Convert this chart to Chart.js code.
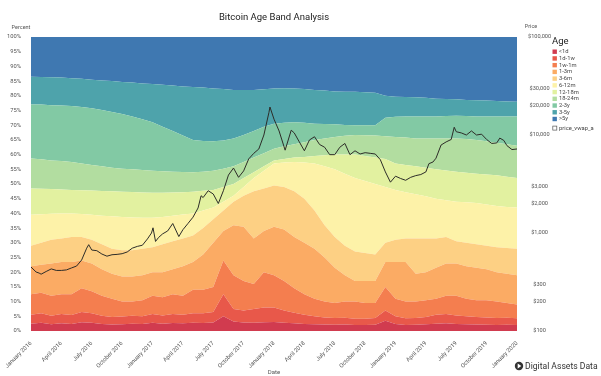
<!DOCTYPE html>
<html>
<head>
<meta charset="utf-8">
<script src="https://cdn.jsdelivr.net/npm/chart.js@4/dist/chart.umd.min.js"></script>
<style>
  html, body { margin: 0; padding: 0; background: #fff; }
  #wrap { width: 601px; height: 376px; }
</style>
</head>
<body>
<div id="wrap"><canvas id="chart" width="601" height="376"></canvas></div>
<script>
// ---------- data (month index: 0 = January 2016, 48 = January 2020) ----------
const months = [0,1,2,3,4,5,6,7,8,9,10,11,12,13,14,15,16,17,18,19,20,21,22,23,24,
  25,26,27,28,29,30,31,32,33,34,35,36,37,38,39,40,41,42,43,44,45,46,47,48];

const ageBands = ["<1d","1d-1w","1w-1m","1-3m","3-6m","6-12m","12-18m","18-24m","2-3y","3-5y",">5y"];
const bandColors = ["#d13b4f","#e8584a","#f47e4f","#fbab64","#fdd084","#fdf2a8",
  "#e2f1a0","#b2dda0","#82c9a4","#4ea3ab","#3f78b1"];

// upper edge of each band, in percent of supply (cumulative)
const upper_lt1d = [2.5,2.8,2.3,2.6,2.4,3.0,2.8,2.4,2.2,2.3,2.5,2.4,2.8,2.5,2.7,2.6,2.8,2.7,2.9,5.0,
  3.2,2.9,2.8,3.0,3.1,2.8,2.6,2.4,2.3,2.2,2.1,2.2,2.0,2.0,2.1,3.5,2.4,2.0,2.1,2.3,2.5,2.6,2.4,2.3,2.2,2.1,2.0,2.1,2.0];
const upper_1d1w = [5.5,6.0,5.2,5.8,5.4,6.5,6.0,5.2,4.8,4.9,5.2,5.0,5.8,5.3,5.8,5.5,6.0,6.0,6.5,12.5,
  7.5,7.0,7.5,8.0,8.0,7.0,6.2,5.5,5.0,4.6,4.4,4.5,4.2,4.2,4.4,7.0,5.0,4.3,4.4,4.8,5.5,5.8,5.3,5.0,4.8,4.6,4.4,4.5,4.3];
const upper_1w1m = [12.5,13.0,12.0,12.5,12.5,14.5,13.5,12.0,11.0,10.0,10.0,10.5,12.0,11.5,12.5,12.0,14.0,14.0,15.0,24.0,
  19.0,17.0,16.0,20.0,19.0,17.0,14.5,12.5,11.0,10.0,9.5,10.0,10.0,9.5,9.5,15.0,11.0,10.0,10.0,10.5,11.0,12.0,12.0,11.0,10.5,10.5,10.0,9.5,9.0];
const upper_1m3m = [22.0,22.5,23.0,23.5,23.5,24.0,23.0,21.0,19.5,18.5,18.5,19.0,20.0,20.0,21.0,22.0,23.5,26.0,30.0,34.0,
  36.0,35.5,31.5,34.0,35.5,34.5,32.0,30.0,28.0,25.0,21.5,19.0,17.0,17.0,17.0,23.5,23.5,23.5,19.5,20.0,21.5,23.0,23.0,22.0,21.5,21.0,20.0,19.5,19.0];
const upper_3m6m = [29.0,30.0,31.0,31.5,32.0,32.0,31.0,29.5,28.0,27.5,27.5,28.0,28.5,29.5,30.5,31.5,32.5,35.0,38.0,41.0,
  44.0,46.0,47.5,48.5,49.5,49.0,47.5,45.0,41.0,36.0,32.0,29.0,27.0,26.5,26.0,30.0,31.0,31.5,31.5,31.5,31.5,32.0,30.5,30.0,29.5,29.0,28.5,28.2,28.0];
const upper_6m12m = [39.5,39.7,39.9,40.0,40.0,39.8,39.5,39.2,39.0,38.8,38.6,38.5,38.5,38.8,39.2,39.6,40.0,41.0,42.0,44.0,
  46.0,49.0,52.0,54.5,57.0,57.3,57.5,57.3,57.0,56.0,55.0,53.5,52.0,51.0,50.0,49.0,48.0,47.2,46.5,45.8,45.0,44.5,44.0,43.8,43.5,43.0,42.5,42.2,42.0];
const upper_12m18m = [48.5,48.4,48.3,48.1,48.0,47.9,47.8,47.6,47.5,47.4,47.3,47.1,47.0,47.0,47.1,47.2,47.4,47.7,48.0,49.0,
  50.0,52.0,54.0,56.0,58.0,58.5,59.0,59.2,59.5,59.8,60.0,60.0,60.0,59.5,59.0,58.5,57.0,56.5,56.0,55.5,55.0,54.6,54.2,53.8,53.5,53.2,53.0,52.5,52.0];
const upper_18m24m = [58.7,58.4,58.0,57.8,57.5,57.0,56.5,56.0,55.5,55.2,55.0,54.8,54.5,54.3,54.2,54.1,54.0,54.2,54.5,55.2,
  56.0,57.5,59.0,60.5,62.0,62.8,63.5,64.2,65.0,65.5,66.0,66.4,66.7,66.6,66.5,66.2,66.0,65.8,65.5,65.5,65.5,65.5,65.5,65.3,65.0,64.5,64.0,63.5,63.0];
const upper_2y3y = [77.0,77.0,76.8,76.7,76.5,76.2,75.8,75.2,74.5,73.8,73.0,72.0,71.0,69.5,68.0,66.5,65.0,64.6,64.5,64.8,
  65.5,66.7,68.0,69.5,70.5,70.8,71.0,70.8,70.5,70.4,70.3,70.1,70.0,70.0,70.0,72.5,72.9,73.0,73.0,73.0,73.0,73.1,73.2,73.1,73.0,73.0,73.0,73.0,73.0];
const upper_3y5y = [86.5,86.4,86.3,86.2,86.0,85.8,85.5,85.2,85.0,84.7,84.5,84.2,84.0,83.8,83.5,83.2,83.0,82.8,82.5,82.3,
  82.0,82.0,82.0,82.2,82.5,82.6,82.5,82.3,82.0,81.8,81.5,81.4,81.4,81.2,81.0,80.0,79.7,79.6,79.5,79.3,79.0,78.9,78.8,78.6,78.5,78.4,78.2,78.1,78.0];
const upper_gt5y = months.map(() => 100);

const bandTops = [upper_lt1d, upper_1d1w, upper_1w1m, upper_1m3m, upper_3m6m, upper_6m12m,
  upper_12m18m, upper_18m24m, upper_2y3y, upper_3y5y, upper_gt5y];

// price_vwap_a (USD), read at about half-month steps
const priceMonths = [0,0.5,0.8,1,1.5,2,2.5,3,3.5,4,4.5,5,5.5,5.7,6,6.5,7,7.5,8,8.5,9,9.5,10,10.5,11,11.5,11.9,
  12.05,12.3,12.6,13,13.5,14,14.6,15,15.5,16,16.5,16.8,17,17.5,18,18.5,19,19.5,20,20.5,21,21.5,22,22.5,23,23.5,23.6,
  24,24.5,25.1,25.7,26,26.5,27,27.5,28,28.5,29,29.5,30,30.5,31,31.5,32,32.5,33,33.5,34,34.5,35,35.5,
  36,36.5,37,37.5,38,38.5,39,39.3,39.7,40,40.5,41,41.5,41.8,42,42.5,43,43.5,44,44.5,45,45.5,46,46.3,46.7,47,47.5,48];
const priceValues = [450,400,390,380,405,430,415,415,420,440,460,530,700,760,670,660,610,580,600,605,615,640,700,730,750,870,1000,
  1130,820,900,980,1050,1250,920,1080,1250,1450,1800,2400,2300,2700,2500,2000,2700,3900,4600,3700,4300,5700,6500,7200,10000,17000,19300,
  14500,11000,7000,11200,10500,8500,6900,8900,9600,8000,7500,6300,6300,7500,8200,6300,6900,6400,6600,6500,6400,5600,4200,3300,
  3800,3600,3450,3700,3850,3950,4200,5100,5300,5800,7900,8500,9000,12000,10800,10500,10000,11000,10000,10200,9000,8200,8300,9300,8800,7800,7100,7200];

const percentTicks = [0,5,10,15,20,25,30,35,40,45,50,55,60,65,70,75,80,85,90,95,100];
const priceTicks = [100,200,300,1000,2000,3000,10000,20000,30000,100000];
const dateTickLabels = ["January 2016","April 2016","July 2016","October 2016",
  "January 2017","April 2017","July 2017","October 2017",
  "January 2018","April 2018","July 2018","October 2018",
  "January 2019","April 2019","July 2019","October 2019","January 2020"];

// ---------- chart ----------
const FONT = "Roboto, 'Liberation Sans', sans-serif";

const datasets = bandTops.map((tops, i) => ({
  label: ageBands[i],
  data: months.map((m, k) => ({ x: m, y: tops[k] })),
  yAxisID: "y",
  backgroundColor: bandColors[i],
  borderWidth: 0,
  pointRadius: 0,
  fill: i === 0 ? "origin" : "-1",
  order: 1
}));
datasets.push({
  label: "price_vwap_a",
  data: priceMonths.map((m, k) => ({ x: m, y: priceValues[k] })),
  yAxisID: "yPrice",
  borderColor: "#2d2d28",
  borderWidth: 1,
  pointRadius: 0,
  fill: false,
  order: 0
});

// extra texts + legend + logo
const decorations = {
  id: "decorations",
  afterDraw(chart) {
    const { ctx, chartArea } = chart;
    ctx.save();
    ctx.textBaseline = "middle";
    ctx.fillStyle = "#222";
    ctx.textAlign = "center";
    ctx.font = `9.5px ${FONT}`;
    ctx.fillText("Bitcoin Age Band Analysis", (chartArea.left + chartArea.right) / 2, 17.5);

    ctx.fillStyle = "#555";
    ctx.font = `5.5px ${FONT}`;
    ctx.fillText("Percent", 21, 27.5);
    ctx.fillText("Price", 531, 26.5);

    // legend
    ctx.textAlign = "left";
    ctx.fillStyle = "#222";
    ctx.font = `9.5px ${FONT}`;
    ctx.fillText("Age", 552, 42);
    ctx.font = `5.8px ${FONT}`;
    ageBands.forEach((name, i) => {
      const y = 51.7 + i * 6.73;
      ctx.fillStyle = bandColors[i];
      ctx.fillRect(552.5, y - 2.2, 4.4, 4.4);
      ctx.fillStyle = "#444";
      ctx.fillText(name, 559, y);
    });
    ctx.strokeStyle = "#555";
    ctx.lineWidth = 0.7;
    ctx.strokeRect(552.8, 126.1, 4, 4);
    ctx.fillStyle = "#444";
    ctx.fillText("price_vwap_a", 559, 128.3);

    // logo
    ctx.fillStyle = "#333";
    ctx.beginPath();
    ctx.arc(519, 366, 4.2, 0, Math.PI * 2);
    ctx.fill();
    ctx.fillStyle = "#fff";
    ctx.beginPath();
    ctx.moveTo(517.7, 363.6);
    ctx.lineTo(521.3, 366);
    ctx.lineTo(517.7, 368.4);
    ctx.closePath();
    ctx.fill();
    ctx.fillStyle = "#333";
    ctx.font = `8.6px ${FONT}`;
    ctx.fillText("Digital Assets Data", 525, 366.5);
    ctx.restore();
  }
};

new Chart(document.getElementById("chart"), {
  type: "line",
  data: { datasets },
  options: {
    responsive: false,
    devicePixelRatio: 1,
    animation: false,
    layout: { padding: { top: 37, right: 48, left: 0, bottom: 0 } },
    plugins: { legend: { display: false }, tooltip: { enabled: false }, title: { display: false } },
    elements: { line: { tension: 0 } },
    scales: {
      x: {
        type: "linear",
        min: 0, max: 48,
        grid: { display: false },
        border: { display: false },
        afterBuildTicks: (s) => { s.ticks = dateTickLabels.map((_, i) => ({ value: i * 3 })); },
        ticks: {
          font: { family: FONT, size: 5.8 }, color: "#555", padding: 1,
          maxRotation: 45, minRotation: 45, autoSkip: false,
          callback: (v) => dateTickLabels[v / 3]
        },
        title: { display: true, text: "Date", font: { family: FONT, size: 6 }, color: "#555", padding: 0 },
        afterFit: (s) => { s.height = 45; }
      },
      y: {
        position: "left",
        min: 0, max: 100,
        grid: { display: false },
        border: { display: false },
        afterBuildTicks: (s) => { s.ticks = percentTicks.map(v => ({ value: v })); },
        ticks: { font: { family: FONT, size: 5.8 }, color: "#555", padding: 2, callback: (v) => v + "%" },
        afterFit: (s) => { s.width = 31; }
      },
      yPrice: {
        type: "logarithmic",
        position: "right",
        min: 100, max: 100000,
        grid: { display: false },
        border: { display: false },
        afterBuildTicks: (s) => { s.ticks = priceTicks.map(v => ({ value: v })); },
        ticks: {
          font: { family: FONT, size: 5.6 }, color: "#555", crossAlign: "center",
          callback: (v) => "$" + Number(v).toLocaleString("en-US")
        },
        afterFit: (s) => { s.width = 36; }
      }
    }
  },
  plugins: [decorations]
});
</script>
</body>
</html>
